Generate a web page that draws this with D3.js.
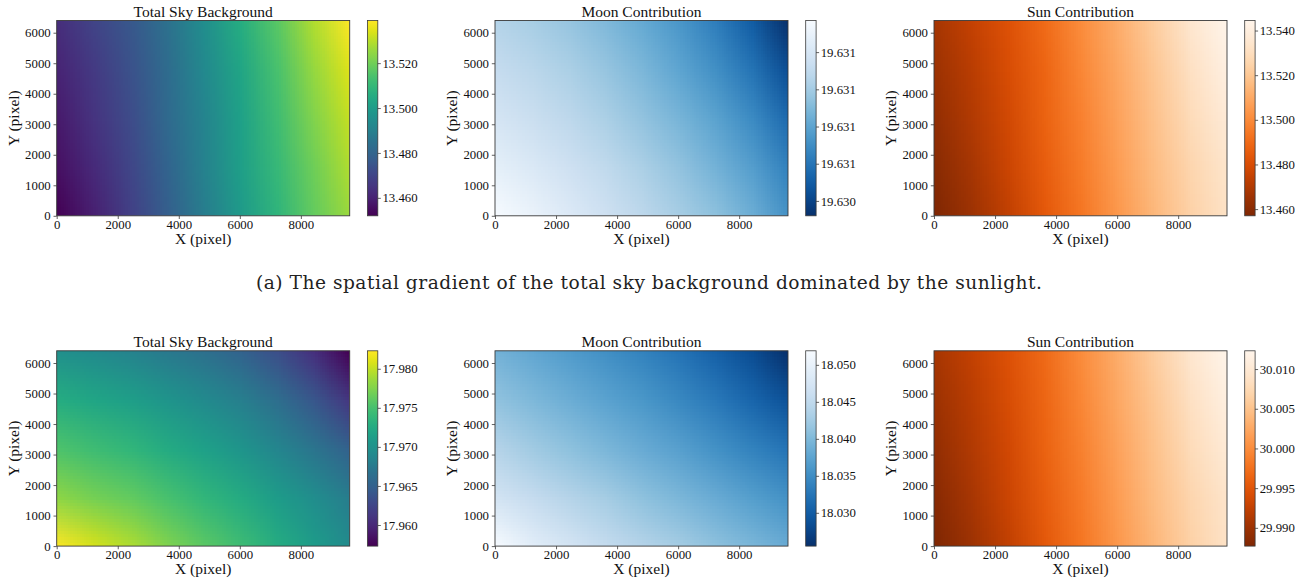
<!DOCTYPE html>
<html>
<head>
<meta charset="utf-8">
<script src="https://cdn.jsdelivr.net/npm/d3@7"></script>
<style>
  body { margin: 0; background: #fff; }
  svg { display: block; font-family: "Liberation Serif", "Times New Roman", serif; }
</style>
</head>
<body>
<svg id="fig" width="1315" height="584"></svg>
<script>
// Detector sample positions (pixels); grid rows are listed from top (Y=6400) to bottom (Y=0)
const xNodes = [0, 1200, 2400, 3600, 4800, 6000, 7200, 8400, 9600];
const yNodes = [6400, 4800, 3200, 1600, 0];
const xTicks = [0, 2000, 4000, 6000, 8000];
const yTicks = [0, 1000, 2000, 3000, 4000, 5000, 6000];

// Row (a): sun-dominated case, sky brightness samples
const skyA = [
  [13.4633, 13.4694, 13.4755, 13.4842, 13.4946, 13.5059, 13.5164, 13.5286, 13.5390],
  [13.4607, 13.4668, 13.4738, 13.4825, 13.4929, 13.5033, 13.5138, 13.5251, 13.5347],
  [13.4581, 13.4651, 13.4720, 13.4816, 13.4912, 13.5016, 13.5120, 13.5225, 13.5312],
  [13.4555, 13.4624, 13.4703, 13.4798, 13.4903, 13.5007, 13.5103, 13.5199, 13.5286],
  [13.4520, 13.4598, 13.4685, 13.4781, 13.4885, 13.4990, 13.5086, 13.5181, 13.5260]
];
const moonA = [
  [19.631055, 19.631013, 19.630961, 19.630898, 19.630824, 19.630740, 19.630635, 19.630499, 19.630320],
  [19.631118, 19.631076, 19.631024, 19.630961, 19.630887, 19.630803, 19.630709, 19.630593, 19.630436],
  [19.631192, 19.631139, 19.631087, 19.631024, 19.630950, 19.630877, 19.630793, 19.630688, 19.630551],
  [19.631276, 19.631223, 19.631160, 19.631097, 19.631024, 19.630950, 19.630866, 19.630772, 19.630646],
  [19.631370, 19.631307, 19.631234, 19.631160, 19.631087, 19.631013, 19.630940, 19.630845, 19.630719]
];
const sunA = [
  [13.4675, 13.4745, 13.4815, 13.4903, 13.5008, 13.5113, 13.5226, 13.5349, 13.5445],
  [13.4649, 13.4719, 13.4798, 13.4885, 13.4990, 13.5095, 13.5200, 13.5314, 13.5410],
  [13.4623, 13.4701, 13.4780, 13.4876, 13.4973, 13.5078, 13.5183, 13.5288, 13.5375],
  [13.4596, 13.4675, 13.4763, 13.4859, 13.4955, 13.5060, 13.5165, 13.5261, 13.5340],
  [13.4570, 13.4649, 13.4736, 13.4841, 13.4938, 13.5043, 13.5148, 13.5244, 13.5323]
];

// Row (b): second observing condition
const skyB = [
  [17.96980, 17.96930, 17.96855, 17.96755, 17.96655, 17.96530, 17.96330, 17.96080, 17.95730],
  [17.97280, 17.97205, 17.97130, 17.97030, 17.96930, 17.96805, 17.96630, 17.96405, 17.96130],
  [17.97530, 17.97455, 17.97380, 17.97255, 17.97155, 17.97030, 17.96880, 17.96705, 17.96505],
  [17.97805, 17.97705, 17.97630, 17.97505, 17.97380, 17.97255, 17.97105, 17.96955, 17.96780],
  [17.98230, 17.98080, 17.97930, 17.97755, 17.97600, 17.97455, 17.97280, 17.97105, 17.96930]
];
const moonB = [
  [18.0392, 18.0379, 18.0366, 18.0353, 18.0339, 18.0324, 18.0305, 18.0284, 18.0255],
  [18.0413, 18.0400, 18.0387, 18.0374, 18.0361, 18.0345, 18.0329, 18.0310, 18.0289],
  [18.0440, 18.0424, 18.0411, 18.0398, 18.0384, 18.0371, 18.0355, 18.0339, 18.0324],
  [18.0471, 18.0456, 18.0440, 18.0427, 18.0411, 18.0398, 18.0384, 18.0369, 18.0355],
  [18.0519, 18.0493, 18.0474, 18.0456, 18.0440, 18.0427, 18.0411, 18.0398, 18.0384]
];
const sunB = [
  [29.9907, 29.9926, 29.9946, 29.9970, 30.0000, 30.0030, 30.0062, 30.0096, 30.0123],
  [29.9899, 29.9919, 29.9941, 29.9966, 29.9995, 30.0025, 30.0054, 30.0086, 30.0113],
  [29.9892, 29.9914, 29.9936, 29.9963, 29.9990, 30.0020, 30.0049, 30.0079, 30.0103],
  [29.9884, 29.9907, 29.9931, 29.9958, 29.9985, 30.0015, 30.0044, 30.0071, 30.0093],
  [29.9877, 29.9899, 29.9924, 29.9953, 29.9980, 30.0010, 30.0039, 30.0066, 30.0089]
];

// Colorbar tick values
const cbTicksSkyA  = [13.46, 13.48, 13.50, 13.52];
const cbTicksMoonA = [19.6304, 19.6306, 19.6308, 19.6310, 19.6312];
const cbTicksSunA  = [13.46, 13.48, 13.50, 13.52, 13.54];
const cbTicksSkyB  = [17.96, 17.965, 17.97, 17.975, 17.98];
const cbTicksMoonB = [18.03, 18.035, 18.04, 18.045, 18.05];
const cbTicksSunB  = [29.99, 29.995, 30.00, 30.005, 30.01];

const titles = ["Total Sky Background", "Moon Contribution", "Sun Contribution"];
const xLabel = "X (pixel)";
const yLabel = "Y (pixel)";
const caption = "(a) The spatial gradient of the total sky background dominated by the sunlight.";

// ---- layout ----
const colLeft = [56.7, 495, 934];
const rowTop = [20.5, 350.8];
const plotW = 293, plotH = 195.3;
const cbOffset = 310.7, cbW = 10.4;
const tickFont = 12.8, labelFont = 15.5;
const ink = "#111", frame = "#3a3a3a";

const svg = d3.select("#fig");
const defs = svg.append("defs");
let uid = 0;

function drawPanel(left, top, grid, interp, reversed, cbTicks, title) {
  const id = uid++;
  const g = svg.append("g");
  const x = d3.scaleLinear().domain([0, 9600]).range([left, left + plotW]);
  const y = d3.scaleLinear().domain([0, 6400]).range([top + plotH, top]);
  const ext = d3.extent(grid.flat());
  const color = d3.scaleSequential(interp).domain(reversed ? [ext[1], ext[0]] : ext);

  // field image: one texel per sample node, smoothly resampled by the browser
  const nx = xNodes.length, ny = yNodes.length;
  const cv = document.createElement("canvas");
  cv.width = nx; cv.height = ny;
  const ctx = cv.getContext("2d");
  const img = ctx.createImageData(nx, ny);
  grid.forEach((row, j) => row.forEach((v, i) => {
    const c = d3.rgb(color(v));
    const k = (j * nx + i) * 4;
    img.data[k] = c.r; img.data[k + 1] = c.g; img.data[k + 2] = c.b; img.data[k + 3] = 255;
  }));
  ctx.putImageData(img, 0, 0);
  const cw = x(xNodes[1]) - x(xNodes[0]);
  const ch = y(yNodes[1]) - y(yNodes[0]);

  defs.append("clipPath").attr("id", "clip" + id)
    .append("rect").attr("x", x(0)).attr("y", y(6400)).attr("width", x(9600) - x(0)).attr("height", y(0) - y(6400));

  g.append("image")
    .attr("href", cv.toDataURL())
    .attr("x", x(xNodes[0]) - cw / 2)
    .attr("y", y(yNodes[0]) - ch / 2)
    .attr("width", cw * nx)
    .attr("height", ch * ny)
    .attr("preserveAspectRatio", "none")
    .attr("clip-path", `url(#clip${id})`);

  g.append("rect")
    .attr("x", x(0)).attr("y", y(6400)).attr("width", x(9600) - x(0)).attr("height", y(0) - y(6400))
    .attr("fill", "none").attr("stroke", frame).attr("stroke-width", 0.9);

  // axes
  const ax = g.append("g").attr("transform", `translate(0,${y(0)})`)
    .call(d3.axisBottom(x).tickValues(xTicks).tickSize(3.2).tickPadding(1).tickFormat(d3.format("d")));
  const ay = g.append("g").attr("transform", `translate(${x(0)},0)`)
    .call(d3.axisLeft(y).tickValues(yTicks).tickSize(3.2).tickPadding(2.8).tickFormat(d3.format("d")));
  [ax, ay].forEach(a => {
    a.select(".domain").remove();
    a.selectAll("line").attr("stroke", frame).attr("stroke-width", 0.8);
    a.selectAll("text").attr("fill", ink).style("font-size", tickFont + "px")
      .style("font-family", '"Liberation Serif", "Times New Roman", serif');
  });

  g.append("text").attr("x", (x(0) + x(9600)) / 2).attr("y", y(0) + 28)
    .attr("text-anchor", "middle").attr("fill", ink).style("font-size", labelFont + "px").text(xLabel);
  g.append("text").attr("transform", `translate(${x(0) - 38},${(y(0) + y(6400)) / 2}) rotate(-90)`)
    .attr("text-anchor", "middle").attr("fill", ink).style("font-size", labelFont + "px").text(yLabel);
  g.append("text").attr("x", (x(0) + x(9600)) / 2).attr("y", y(6400) - 3.4)
    .attr("text-anchor", "middle").attr("fill", ink).style("font-size", labelFont + "px").text(title);

  // colorbar
  const cbX = left + cbOffset;
  const cbScale = d3.scaleLinear().domain(ext).range([top + plotH, top]);
  const gid = "cbgrad" + id;
  const grad = defs.append("linearGradient").attr("id", gid)
    .attr("x1", 0).attr("y1", 1).attr("x2", 0).attr("y2", 0);
  d3.range(0, 1.0001, 1 / 32).forEach(f => {
    const v = ext[0] + f * (ext[1] - ext[0]);
    grad.append("stop").attr("offset", f).attr("stop-color", color(v));
  });
  g.append("rect").attr("x", cbX).attr("y", top).attr("width", cbW).attr("height", plotH)
    .attr("fill", `url(#${gid})`).attr("stroke", frame).attr("stroke-width", 0.8);
  const ac = g.append("g").attr("transform", `translate(${cbX + cbW},0)`)
    .call(d3.axisRight(cbScale).tickValues(cbTicks).tickSize(3).tickPadding(1.6).tickFormat(d3.format(".3f")));
  ac.select(".domain").remove();
  ac.selectAll("line").attr("stroke", frame).attr("stroke-width", 0.8);
  ac.selectAll("text").attr("fill", ink).style("font-size", tickFont + "px")
    .style("font-family", '"Liberation Serif", "Times New Roman", serif');
}

const interps = [d3.interpolateViridis, d3.interpolateBlues, d3.interpolateOranges];
const reversedMaps = [false, true, true];
const rowsData = [[skyA, moonA, sunA], [skyB, moonB, sunB]];
const rowsTicks = [[cbTicksSkyA, cbTicksMoonA, cbTicksSunA], [cbTicksSkyB, cbTicksMoonB, cbTicksSunB]];

rowsData.forEach((row, r) => row.forEach((grid, c) => {
  drawPanel(colLeft[c], rowTop[r], grid, interps[c], reversedMaps[c], rowsTicks[r][c], titles[c]);
}));

svg.append("text").attr("x", 256).attr("y", 288.5)
  .attr("textLength", 786).attr("lengthAdjust", "spacing")
  .attr("fill", "#222").style("font-family", '"DejaVu Serif", serif').style("font-size", "18.6px")
  .text(caption);
</script>
</body>
</html>
